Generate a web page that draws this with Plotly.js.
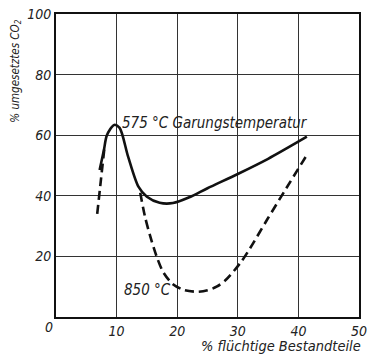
<!DOCTYPE html>
<html>
<head>
<meta charset="utf-8">
<script src="https://cdn.plot.ly/plotly-3.0.1.min.js"></script>
<style>html,body{margin:0;padding:0;background:#fff;}#chart{width:367px;height:357px;}</style>
</head>
<body>
<div id="chart"></div>
<script>
// 575 °C Garungstemperatur (solid)
const x575 = [7.2, 7.9, 8.4, 9.6, 10.5, 11.9, 13.6, 15.0, 17.1, 19.3, 22.0, 25.0, 30.0, 35.0, 41.4];
const y575 = [48.5, 55.0, 60.0, 63.4, 62.4, 52.9, 43.0, 39.7, 37.7, 37.6, 39.5, 42.5, 47.2, 52.2, 59.5];
// 850 °C (dashed) – left fragment
const x850a = [6.8, 7.4, 8.0];
const y850a = [34.0, 45.0, 56.0];
// 850 °C (dashed) – main branch
const x850b = [13.9, 14.7, 15.5, 16.6, 17.7, 19.3, 21.0, 23.3, 25.0, 26.5, 28.0, 30.4, 32.0, 34.8, 38.0, 41.4];
const y850b = [41.0, 33.0, 27.0, 20.0, 14.8, 10.8, 9.0, 8.3, 8.8, 10.0, 12.2, 17.8, 22.6, 32.0, 42.5, 53.5];

const xTicks = [10, 20, 30, 40, 50];
const yTicks = [20, 40, 60, 80, 100];
const xOriginLabel = '0';

const FONT = 'DejaVu Sans Condensed, DejaVu Sans, sans-serif';
const lineStyleSolid = {color: '#111', width: 2.6, shape: 'spline', smoothing: 0.8};
const lineStyleDash = {color: '#111', width: 2.6, dash: '9px,5px', shape: 'spline', smoothing: 0.8};

const traces = [
  {x: x575, y: y575, mode: 'lines', line: lineStyleSolid, name: '575 °C', showlegend: false, hoverinfo: 'skip'},
  {x: x850a, y: y850a, mode: 'lines', line: lineStyleDash, name: '850 °C a', showlegend: false, hoverinfo: 'skip'},
  {x: x850b, y: y850b, mode: 'lines', line: lineStyleDash, name: '850 °C', showlegend: false, hoverinfo: 'skip'}
];

const tickFont = {family: FONT, size: 14, color: '#222', style: 'italic'};

const layout = {
  width: 367, height: 357,
  margin: {l: 56, r: 8, t: 14, b: 40},
  paper_bgcolor: '#fff', plot_bgcolor: '#fff',
  showlegend: false,
  xaxis: {
    range: [0, 50], tickvals: xTicks, ticktext: xTicks.map(String),
    showgrid: true, gridcolor: '#333', gridwidth: 1.2,
    showline: true, linecolor: '#111', linewidth: 2, mirror: true,
    zeroline: false, ticks: '', tickfont: tickFont, fixedrange: true,
    ticklabeloverflow: 'allow'
  },
  yaxis: {
    range: [0, 100], tickvals: yTicks, ticktext: yTicks.map(String),
    showgrid: true, gridcolor: '#333', gridwidth: 1.2,
    showline: true, linecolor: '#111', linewidth: 2, mirror: true,
    zeroline: false, ticks: '', tickfont: tickFont, fixedrange: true,
    ticklabeloverflow: 'allow'
  },
  annotations: [
    {text: '575 °C Garungstemperatur', x: 10.6, y: 64, xref: 'x', yref: 'y', xanchor: 'left', yanchor: 'middle',
     showarrow: false, font: {family: FONT, size: 15, color: '#222', style: 'italic'}},
    {text: '850 °C', x: 10.9, y: 9, xref: 'x', yref: 'y', xanchor: 'left', yanchor: 'middle',
     showarrow: false, font: {family: FONT, size: 15, color: '#222', style: 'italic'}},
    {text: '% flüchtige Bestandteile', x: 1, y: -0.095, xref: 'paper', yref: 'paper', xanchor: 'right', yanchor: 'middle',
     xshift: 4, showarrow: false, font: {family: FONT, size: 14.5, color: '#222', style: 'italic'}},
    {text: '% umgesetztes CO<sub>2</sub>', x: -0.135, y: 0.81, xref: 'paper', yref: 'paper', xanchor: 'center', yanchor: 'middle',
     textangle: -90, showarrow: false, font: {family: FONT, size: 11.5, color: '#222', style: 'italic'}},
    {text: xOriginLabel, x: 0, y: -0.033, xref: 'paper', yref: 'paper', xanchor: 'center', yanchor: 'middle', xshift: -7,
     showarrow: false, font: tickFont}
  ]
};

Plotly.newPlot('chart', traces, layout, {displayModeBar: false, staticPlot: true});
</script>
</body>
</html>
